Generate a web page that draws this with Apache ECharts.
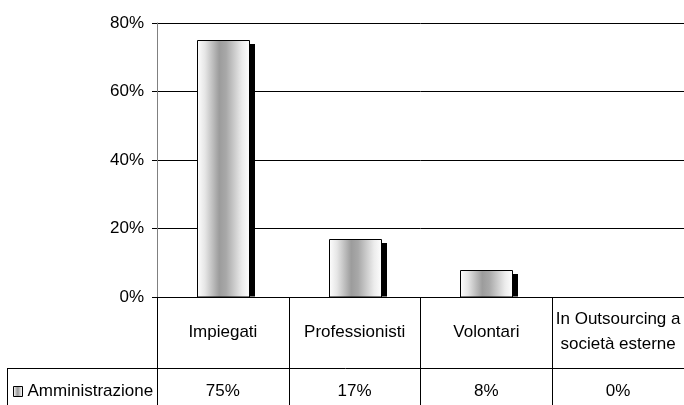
<!DOCTYPE html>
<html><head><meta charset="utf-8">
<script src="https://cdn.jsdelivr.net/npm/echarts@6/dist/echarts.min.js"></script>
<style>html,body{margin:0;padding:0;background:#fff}#c{width:684px;height:405px}</style>
</head><body><div id="c"></div>
<script>
const categories = ['Impiegati', 'Professionisti', 'Volontari', 'In Outsourcing a\nsocietà esterne'];
const seriesName = 'Amministrazione';
const values = [75, 17, 8, 0];
const yTicks = [0, 20, 40, 60, 80];

const FONT = "'Liberation Sans',Arial,sans-serif";
const FS = 17;
const chart = echarts.init(document.getElementById('c'), null, {renderer: 'canvas'});
const grad = new echarts.graphic.LinearGradient(0, 0, 1, 0, [
  {offset: 0, color: '#ffffff'},
  {offset: 0.15, color: '#e6e6e6'},
  {offset: 0.42, color: '#9c9c9c'},
  {offset: 0.55, color: '#a8a8a8'},
  {offset: 0.85, color: '#ececec'},
  {offset: 1, color: '#ffffff'}
]);
const BW = 52, SX = 5, SY = 4;
chart.setOption({
  animation: false,
  backgroundColor: '#fff',
  textStyle: {fontFamily: FONT, color: '#000'},
  grid: {left: 157, right: -5, top: 23, bottom: 108, containLabel: false},
  legend: {
    data: [seriesName], left: 13, top: 381.5, padding: 0,
    itemWidth: 9, itemHeight: 10, itemGap: 5,
    textStyle: {fontFamily: FONT, fontSize: FS, color: '#000', lineHeight: 20},
    icon: 'rect',
    itemStyle: {color: grad, borderColor: '#000', borderWidth: 1}
  },
  xAxis: [{
    type: 'category', data: categories, position: 'bottom',
    axisLine: {show: true, lineStyle: {color: '#000', width: 1}},
    axisTick: {show: true, length: 108, alignWithLabel: false, lineStyle: {color: '#000'}},
    axisLabel: {color: '#000', fontFamily: FONT, fontSize: FS, margin: 35, verticalAlign: 'middle', lineHeight: 25, interval: 0},
    splitLine: {show: false}
  }, {
    type: 'category', data: values.map(v => v + '%'), position: 'bottom',
    axisLine: {show: false}, axisTick: {show: false},
    axisLabel: {color: '#000', fontFamily: FONT, fontSize: FS, margin: 94.5, verticalAlign: 'middle', interval: 0},
    splitLine: {show: false}
  }],
  yAxis: {
    type: 'value', min: yTicks[0], max: yTicks[yTicks.length - 1], interval: 20,
    axisLine: {show: true, lineStyle: {color: '#808080'}},
    axisTick: {show: true, length: 5, lineStyle: {color: '#000'}},
    axisLabel: {color: '#000', fontFamily: FONT, fontSize: FS, margin: 13, formatter: '{value}%'},
    splitLine: {show: true, lineStyle: {color: '#000', width: 1}}
  },
  series: [{
    name: seriesName, type: 'custom', xAxisIndex: 0,
    data: values.map((v, i) => [i, v]),
    itemStyle: {color: grad, borderColor: '#000', borderWidth: 1},
    renderItem: function (params, api) {
      const v = api.value(1);
      if (!v) return {type: 'group', children: []};
      const top = api.coord([api.value(0), v]);
      const base = api.coord([api.value(0), 0]);
      const x = Math.round(top[0] - BW / 2) + 0.5;
      const y = Math.round(top[1]) + 0.5;
      const h = base[1] - y;
      return {type: 'group', children: [
        {type: 'rect', shape: {x: x + SX - 0.5, y: y + SY - 0.5, width: BW + 1, height: h - SY}, style: {fill: '#000'}},
        {type: 'rect', shape: {x: x, y: y, width: BW, height: h}, style: {fill: grad, stroke: '#000', lineWidth: 1}}
      ]};
    }
  }],
  graphic: [
    {type: 'line', shape: {x1: 7, y1: 368.5, x2: 684, y2: 368.5}, style: {stroke: '#000', lineWidth: 1}, silent: true},
    {type: 'line', shape: {x1: 7.5, y1: 368, x2: 7.5, y2: 405}, style: {stroke: '#000', lineWidth: 1}, silent: true}
  ]
});
</script></body></html>
